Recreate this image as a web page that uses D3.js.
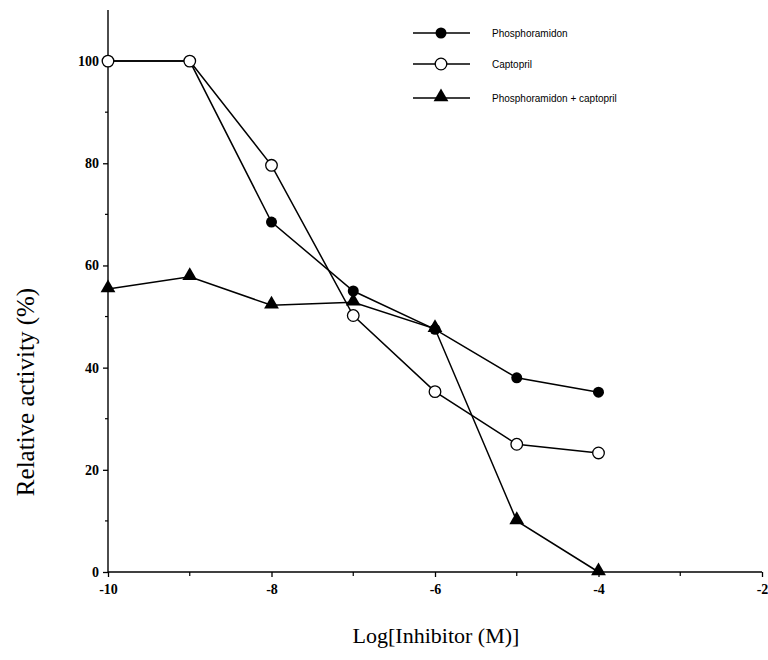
<!DOCTYPE html>
<html>
<head>
<meta charset="utf-8">
<script src="https://cdn.jsdelivr.net/npm/d3@7"></script>
<style>
  body { margin: 0; background: #fff; }
</style>
</head>
<body>
<div id="chart"></div>
<script>
// log concentration of inhibitor
const logConc = [-10, -9, -8, -7, -6, -5, -4];

// relative activity (%)
const phosphoramidon = [100, 100, 68.5, 55, 47.5, 38, 35.2];
const captopril = [100, 100, 79.6, 50.2, 35.3, 25, 23.3];
const combined = [55.4, 57.8, 52.2, 52.8, 47.6, 10, 0];

const xTicks = [-10, -8, -6, -4, -2];
const xMinor = [-9, -7, -5, -3];
const yTicks = [0, 20, 40, 60, 80, 100];
const yMinor = [10, 30, 50, 70, 90];

const seriesNames = ["Phosphoramidon", "Captopril", "Phosphoramidon + captopril"];

const width = 768;
const height = 660;
const margin = { top: 10, right: 6, bottom: 88, left: 108 };

const svg = d3.select("#chart")
    .append("svg")
    .attr("width", width)
    .attr("height", height);

const xScale = d3.scaleLinear()
    .domain([-10, -2])
    .range([margin.left, width - margin.right]);

const yScale = d3.scaleLinear()
    .domain([0, 110])
    .range([height - margin.bottom, margin.top]);

//x axis (plain hyphen for minus, like the original)
const xAxis = svg.append("g")
    .attr("transform", "translate(0," + yScale(0) + ")")
    .call(d3.axisBottom(xScale).tickValues(xTicks).tickSize(5).tickPadding(7)
        .tickFormat(function(d) { return String(d); }));

xAxis.append("g")
    .selectAll("line")
    .data(xMinor)
    .enter()
    .append("line")
    .attr("x1", function(d) { return xScale(d); })
    .attr("x2", function(d) { return xScale(d); })
    .attr("y1", 0)
    .attr("y2", 4)
    .attr("stroke", "black")
    .attr("stroke-width", 1.2);

//y axis
const yAxis = svg.append("g")
    .attr("transform", "translate(" + xScale(-10) + ",0)")
    .call(d3.axisLeft(yScale).tickValues(yTicks).tickSize(5).tickPadding(4));

yAxis.append("g")
    .selectAll("line")
    .data(yMinor)
    .enter()
    .append("line")
    .attr("y1", function(d) { return yScale(d); })
    .attr("y2", function(d) { return yScale(d); })
    .attr("x1", 0)
    .attr("x2", -3)
    .attr("stroke", "black")
    .attr("stroke-width", 1.2);

[xAxis, yAxis].forEach(function(ax) {
    ax.select(".domain").remove();
    ax.attr("font-size", null).attr("font-family", null);
    ax.selectAll(".tick line").attr("stroke-width", 1.3);
    ax.selectAll(".tick text")
        .attr("font-family", "'Liberation Serif', 'DejaVu Serif', serif")
        .attr("font-weight", "bold")
        .attr("font-size", "14px")
        .attr("fill", "black");
});

// axis lines without end caps
svg.append("line")
    .attr("x1", xScale(-10)).attr("x2", xScale(-2))
    .attr("y1", yScale(0)).attr("y2", yScale(0))
    .attr("stroke", "black").attr("stroke-width", 1.6);
svg.append("line")
    .attr("x1", xScale(-10)).attr("x2", xScale(-10))
    .attr("y1", yScale(0)).attr("y2", yScale(110))
    .attr("stroke", "black").attr("stroke-width", 1.4);

const line = d3.line()
    .x(function(d, i) { return xScale(logConc[i]); })
    .y(function(d) { return yScale(d); });

function drawMarker(g, type, x, y) {
    if (type === "filled") {
        g.append("circle").attr("cx", x).attr("cy", y).attr("r", 5.5)
            .attr("fill", "black");
    } else if (type === "open") {
        g.append("circle").attr("cx", x).attr("cy", y).attr("r", 5.8)
            .attr("fill", "white").attr("stroke", "black").attr("stroke-width", 1.3);
    } else {
        g.append("path")
            .attr("d", d3.symbol().type(d3.symbolTriangle).size(95)())
            .attr("transform", "translate(" + x + "," + (y - 1) + ")")
            .attr("fill", "black");
    }
}

const series = [
    { values: combined, type: "triangle" },
    { values: phosphoramidon, type: "filled" },
    { values: captopril, type: "open" }
];

series.forEach(function(s) {
    svg.append("path")
        .datum(s.values)
        .attr("d", line)
        .attr("fill", "none")
        .attr("stroke", "black")
        .attr("stroke-width", 1.5);
});

series.forEach(function(s) {
    const g = svg.append("g");
    s.values.forEach(function(v, i) {
        drawMarker(g, s.type, xScale(logConc[i]), yScale(v));
    });
});

//legend
const legendTypes = ["filled", "open", "triangle"];
const legendY = [33, 64, 98];
const legend = svg.append("g");
seriesNames.forEach(function(name, i) {
    legend.append("line")
        .attr("x1", 413).attr("x2", 470)
        .attr("y1", legendY[i]).attr("y2", legendY[i])
        .attr("stroke", "black").attr("stroke-width", 1.5);
    drawMarker(legend, legendTypes[i], 441, legendY[i]);
    legend.append("text")
        .attr("x", 492)
        .attr("y", legendY[i] + 3.5)
        .style("font-family", "'Liberation Sans', Arial, sans-serif")
        .style("font-size", "10px")
        .text(name);
});

//axis titles
svg.append("text")
    .attr("transform", "rotate(-90)")
    .attr("x", -392)
    .attr("y", 34)
    .attr("text-anchor", "middle")
    .style("font-family", "'Liberation Serif', 'DejaVu Serif', serif")
    .style("font-size", "25px")
    .text("Relative activity (%)");

svg.append("text")
    .attr("x", 436)
    .attr("y", 643)
    .attr("text-anchor", "middle")
    .style("font-family", "'Liberation Serif', 'DejaVu Serif', serif")
    .style("font-size", "22px")
    .text("Log[Inhibitor (M)]");
</script>
</body>
</html>
